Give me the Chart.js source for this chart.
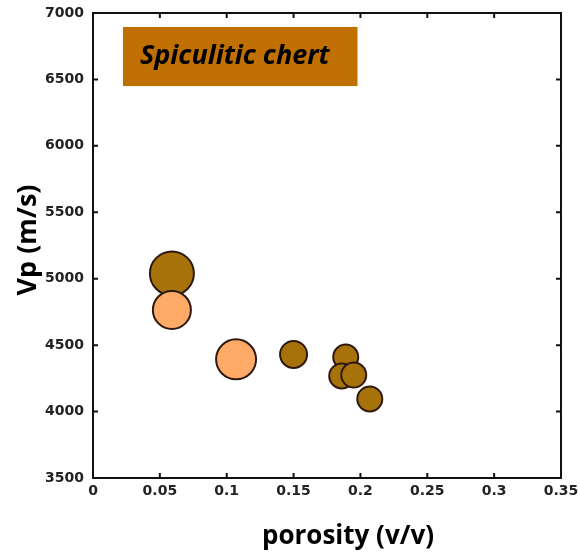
<!DOCTYPE html>
<html>
<head>
<meta charset="utf-8">
<script src="https://cdn.jsdelivr.net/npm/chart.js@4"></script>
<style>
  html, body { margin: 0; padding: 0; background: #fff; }
  #wrap { width: 580px; height: 555px; }
</style>
</head>
<body>
<div id="wrap"><canvas id="chart_vpPorosity"></canvas></div>
<script>
// porosity (v/v), Vp (m/s), bubble radius (px)
var lightPorosity = [0.059, 0.107];
var lightVp = [4765, 4393];
var lightSize = [19, 20];

var darkPorosity = [0.059, 0.150, 0.189, 0.186, 0.195, 0.207];
var darkVp = [5040, 4430, 4410, 4268, 4275, 4095];
var darkSize = [22, 13.5, 12.5, 12.5, 12.5, 12.5];

var xTicks = [0, 0.05, 0.1, 0.15, 0.2, 0.25, 0.3, 0.35];
var yTicks = [3500, 4000, 4500, 5000, 5500, 6000, 6500, 7000];

var boxLabel = 'Spiculitic chert';
var xTitle = 'porosity (v/v)';
var yTitle = 'Vp (m/s)';

function toPoints(xs, ys, rs) {
    return xs.map(function (x, i) { return { x: x, y: ys[i], r: rs[i] }; });
}

var tickFont = { family: 'DejaVu Sans', size: 14, weight: 'bold' };
var titleFont = 'bold 26px "Open Sans"';

var chart_vpPorosity = new Chart(document.getElementById('chart_vpPorosity'), {
    type: 'bubble',
    data: {
        datasets: [
            {
                label: 'light',
                data: toPoints(lightPorosity, lightVp, lightSize),
                backgroundColor: 'rgb(255,170,102)',
                borderColor: 'rgb(45,25,15)',
                borderWidth: 2,
                order: 0
            },
            {
                label: 'dark',
                data: toPoints(darkPorosity, darkVp, darkSize),
                backgroundColor: 'rgb(168,114,10)',
                borderColor: 'rgb(45,25,15)',
                borderWidth: 2,
                order: 1
            }
        ]
    },
    options: {
        animation: false,
        responsive: true,
        maintainAspectRatio: false,
        layout: {
            autoPadding: false,
            padding: { top: 13, right: 19, left: 0, bottom: 0 }
        },
        plugins: {
            legend: { display: false },
            tooltip: { enabled: false }
        },
        scales: {
            x: {
                type: 'linear',
                min: 0,
                max: 0.35,
                afterBuildTicks: function (scale) {
                    scale.ticks = xTicks.map(function (v) { return { value: v }; });
                },
                afterFit: function (scale) {
                    scale.height = 77;
                    scale.paddingLeft = 0;
                    scale.paddingRight = 0;
                },
                grid: { display: false, drawTicks: false },
                border: { display: false },
                ticks: {
                    font: tickFont,
                    color: '#222',
                    padding: 5,
                    maxRotation: 0,
                    callback: function (v) { return String(v); }
                }
            },
            y: {
                type: 'linear',
                min: 3500,
                max: 7000,
                afterBuildTicks: function (scale) {
                    scale.ticks = yTicks.map(function (v) { return { value: v }; });
                },
                afterFit: function (scale) {
                    scale.width = 93;
                    scale.paddingTop = 0;
                    scale.paddingBottom = 0;
                },
                grid: { display: false, drawTicks: false },
                border: { display: false },
                ticks: {
                    font: tickFont,
                    color: '#222',
                    padding: 9,
                    callback: function (v) { return String(v); }
                }
            }
        }
    },
    plugins: [{
        id: 'frameAndBox',
        beforeDraw: function (chart) {
            var ctx = chart.ctx;
            ctx.save();
            ctx.fillStyle = 'white';
            ctx.fillRect(0, 0, chart.width, chart.height);
            ctx.restore();
        },
        beforeDatasetsDraw: function (chart) {
            var ctx = chart.ctx;
            var xs = chart.scales.x, ys = chart.scales.y;
            ctx.save();
            // label box in data coordinates
            var bx0 = xs.getPixelForValue(0.0224), bx1 = xs.getPixelForValue(0.1978);
            var by0 = ys.getPixelForValue(6895), by1 = ys.getPixelForValue(6450);
            ctx.fillStyle = 'rgb(192,112,0)';
            ctx.fillRect(bx0, by0, bx1 - bx0, by1 - by0);
            ctx.fillStyle = '#000';
            ctx.font = 'italic bold 27px "Open Sans"';
            ctx.textAlign = 'left';
            ctx.textBaseline = 'middle';
            ctx.fillText(boxLabel, bx0 + 17, (by0 + by1) / 2);
            ctx.restore();
        },
        afterDatasetsDraw: function (chart) {
            var ctx = chart.ctx;
            var a = chart.chartArea;
            var xs = chart.scales.x, ys = chart.scales.y;
            var len = 5;
            ctx.save();
            ctx.strokeStyle = '#111';
            ctx.lineWidth = 2;
            ctx.strokeRect(a.left, a.top, a.right - a.left, a.bottom - a.top);
            ctx.beginPath();
            xTicks.forEach(function (v) {
                var px = xs.getPixelForValue(v);
                ctx.moveTo(px, a.bottom); ctx.lineTo(px, a.bottom - len);
                ctx.moveTo(px, a.top); ctx.lineTo(px, a.top + len);
            });
            yTicks.forEach(function (v) {
                var py = ys.getPixelForValue(v);
                ctx.moveTo(a.left, py); ctx.lineTo(a.left + len, py);
                ctx.moveTo(a.right, py); ctx.lineTo(a.right - len, py);
            });
            ctx.stroke();

            // axis titles
            ctx.fillStyle = '#000';
            ctx.font = titleFont;
            ctx.textAlign = 'center';
            ctx.textBaseline = 'middle';
            ctx.fillText(xTitle, 348, a.bottom + 59);
            ctx.translate(28, 240);
            ctx.rotate(-Math.PI / 2);
            ctx.font = 'bold 27px "Open Sans"';
            ctx.fillText(yTitle, 0, 0);
            ctx.restore();
        }
    }]
});
</script>
</body>
</html>
